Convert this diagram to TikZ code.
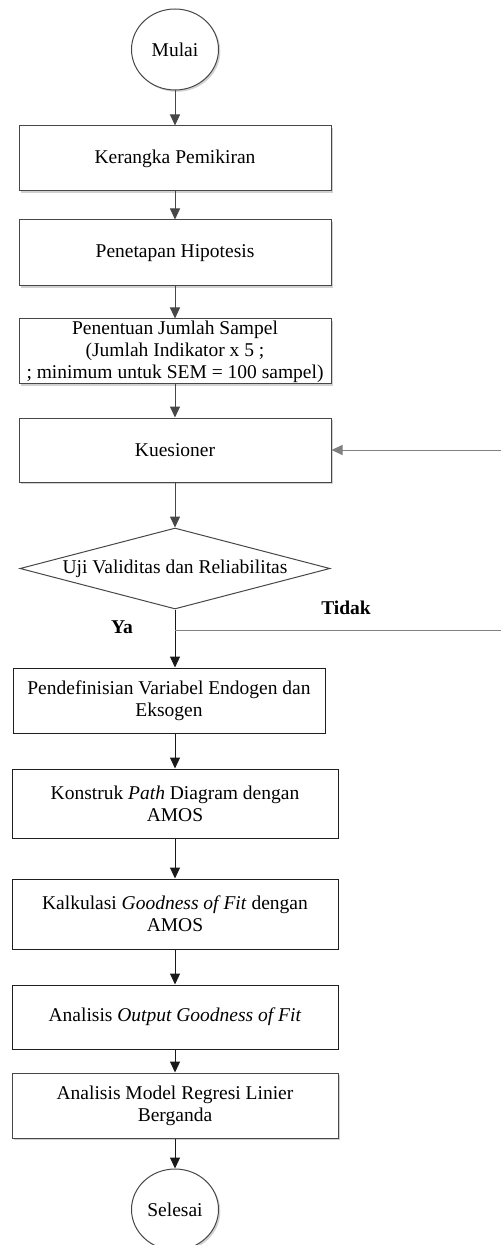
\documentclass[tikz,border=0pt]{standalone}
\usepackage{fontspec}
\setmainfont{Liberation Serif}
\usetikzlibrary{shapes.geometric,arrows.meta,shadows}
\begin{document}
\begin{tikzpicture}[x=0.5pt,y=-0.5pt,
  font=\fontsize{9.75}{11}\selectfont,
  shad/.style={drop shadow={shadow xshift=0.9pt,shadow yshift=-0.9pt,fill=black!18,opacity=1}},
  upbox/.style={draw=black!72,line width=0.5pt,fill=white,shad,rectangle,align=center,inner sep=0pt,minimum width=156pt},
  lowbox/.style={draw=black!88,line width=0.5pt,fill=white,rectangle,align=center,inner sep=0pt,minimum width=163pt},
  term/.style={draw=black!72,line width=0.5pt,fill=white,shad,ellipse,inner sep=0pt,minimum width=43.5pt,minimum height=40.5pt},
  dec/.style={draw=black!72,line width=0.5pt,fill=white,diamond,aspect=3.83,inner sep=0pt,minimum width=155pt,minimum height=40.5pt},
  uparr/.style={draw=black!72,line width=0.5pt,-{Triangle[length=5.5pt,width=5pt]}},
  lowarr/.style={draw=black!90,line width=0.5pt,-{Triangle[length=5.5pt,width=5pt]}},
  fbline/.style={draw=black!50,line width=0.5pt},
  lbl/.style={font=\fontsize{9.75}{11}\selectfont\bfseries,inner sep=0pt}
]
\useasboundingbox (0,0) rectangle (501,1245);

\node[term] (mulai) at (175,49.5) {Mulai};
\node[upbox,minimum height=32.5pt] (b1) at (175,158.5) {Kerangka Pemikiran};
\node[upbox,minimum height=33pt] (b2) at (175,253) {Penetapan Hipotesis};
\node[upbox,minimum height=32.5pt] (b3) at (175,351.5) {Penentuan Jumlah Sampel\\(Jumlah Indikator x 5 ;\\; minimum untuk SEM = 100 sampel)};
\node[upbox,minimum height=32pt] (kues) at (175,450) {Kuesioner};
\node[dec] (uji) at (175,568.5) {Uji Validitas dan Reliabilitas};
\node[lowbox,minimum width=156pt,minimum height=32.5pt] (pend) at (169,700.5) {Pendefinisian Variabel Endogen dan\\Eksogen};
\node[lowbox,minimum height=34.5pt] (kon) at (175,803.5) {Konstruk \textit{Path} Diagram dengan\\AMOS};
\node[lowbox,minimum height=35pt] (kal) at (175,914) {Kalkulasi \textit{Goodness of Fit} dengan\\AMOS};
\node[lowbox,minimum height=32pt] (out) at (175,1017) {Analisis \textit{Output Goodness of Fit}};
\node[upbox,minimum width=163pt,minimum height=32.5pt] (mod) at (175,1105.5) {Analisis Model Regresi Linier\\Berganda};
\node[term] (sel) at (175,1209.5) {Selesai};

\node[lbl] (ya) at (122,627) {Ya};
\node[lbl] (tidak) at (346,608) {Tidak};

\draw[uparr] (mulai) -- (b1);
\draw[uparr] (b1) -- (b2);
\draw[uparr] (b2) -- (b3);
\draw[uparr] (b3) -- (kues);
\draw[uparr] (kues) -- (uji);
\draw[lowarr] (uji.south) -- (uji.south |- pend.north);
\draw[lowarr] (kon.north |- pend.south) -- (kon.north);
\draw[lowarr] (kon) -- (kal);
\draw[lowarr] (kal) -- (out);
\draw[lowarr] (out) -- (mod);
\draw[lowarr] (mod) -- (sel);

\coordinate (j) at (175,630);
\coordinate (r1) at (504,630);
\coordinate (r2) at (504,450);
\draw[fbline] (j) -- (r1) -- (r2);
\draw[fbline,-{Triangle[length=5.5pt,width=5pt]}] (r2) -- (kues.east);
\end{tikzpicture}
\end{document}
